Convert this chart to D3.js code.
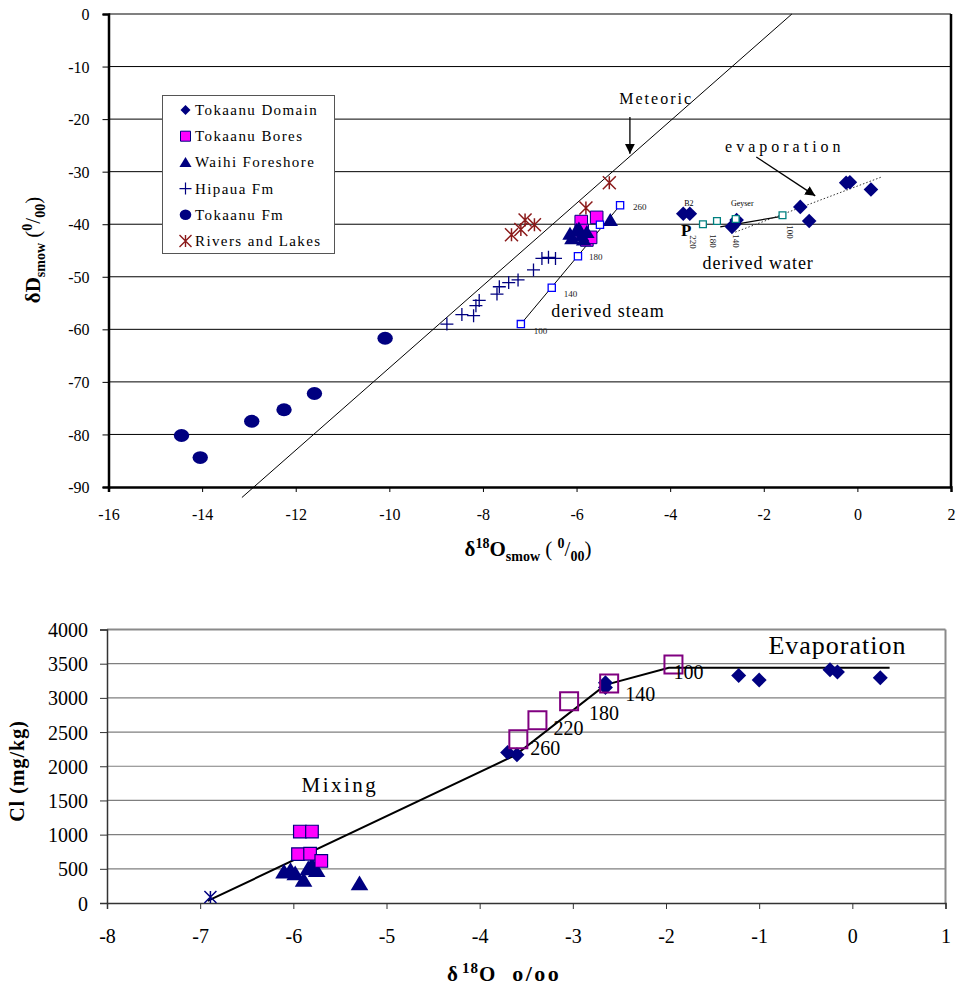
<!DOCTYPE html>
<html><head><meta charset="utf-8">
<script src="https://cdn.jsdelivr.net/npm/d3@7"></script>
<style>body{margin:0;background:#fff}svg{display:block;font-family:"Liberation Serif","Times New Roman",serif}</style>
</head><body><svg id="c" width="956" height="991"></svg>
<script>
// ---------- DATA (top panel: δD vs δ18O) ----------
const topXTicks = [-16,-14,-12,-10,-8,-6,-4,-2,0,2];
const topYTicks = [0,-10,-20,-30,-40,-50,-60,-70,-80,-90];
const seriesNames = ["Tokaanu Domain","Tokaanu Bores","Waihi Foreshore","Hipaua Fm","Tokaanu Fm","Rivers and Lakes"];
const domainTop = [[-3.72,-38.0],[-3.58,-38.0],[-2.58,-39.2],[-2.68,-40.5],[-2.63,-40.0],[-1.22,-36.7],[-1.03,-39.4],[-0.24,-32.1],[-0.16,-32.0],[0.29,-33.4]];
const boresTop = [[-5.9,-39.5],[-5.88,-41.2],[-5.57,-38.7],[-5.78,-43.0],[-5.7,-42.5]];
const waihiTop = [[-6.14,-41.8],[-6.0,-41.1],[-5.89,-42.1],[-5.78,-41.5],[-6.1,-42.7],[-5.95,-40.8],[-5.85,-42.9],[-5.28,-39.2]];
const hipauaTop = [[-8.77,-59.0],[-8.45,-57.2],[-8.2,-57.4],[-8.15,-55.5],[-8.08,-54.5],[-7.7,-53.3],[-7.65,-51.9],[-7.45,-51.1],[-7.25,-50.6],[-6.92,-48.7],[-6.74,-46.5],[-6.6,-46.3],[-6.45,-46.5]];
const tokaanuFm = [[-14.44,-80.2],[-14.04,-84.4],[-12.94,-77.5],[-12.25,-75.3],[-11.6,-72.2],[-10.09,-61.7]];
const riversTop = [[-7.39,-42.0],[-7.19,-41.0],[-7.1,-39.2],[-6.9,-40.1],[-5.8,-36.9],[-5.3,-32.1]];
const meteoricLine = [[-13.15,-92],[-1.4,0]];
const steamPts = [[-7.19,-59.0],[-6.53,-52.1],[-5.97,-46.1],[-5.5,-40.1],[-5.07,-36.4]];
const steamLabels = ["100","140","180","","260"];
const waterPts = [[-3.3,-40.0],[-3.0,-39.4],[-2.6,-39.0],[-1.6,-38.3]];
const waterLabels = ["220","180","140","100"];
const waterLabelPos = [[-3.5,-43.4],[-3.08,-43.2],[-2.58,-43.2],[-1.44,-41.5]];
const pLine = [[-2.93,-40.5],[-1.62,-38.5]];
const evapDotted = [[-2.61,-41.5],[0.52,-31.0]];

// ---------- DATA (bottom panel: Cl vs δ18O) ----------
const botXTicks = [-8,-7,-6,-5,-4,-3,-2,-1,0,1];
const botYTicks = [0,500,1000,1500,2000,2500,3000,3500,4000];
const domainBot = [[-3.7,2200],[-3.6,2170],[-2.65,3220],[-2.65,3150],[-1.22,3328],[-1.0,3260],[-0.24,3411],[-0.16,3380],[0.3,3295]];
const boresBot = [[-5.93,1045],[-5.8,1045],[-5.95,715],[-5.82,720],[-5.7,615]];
const waihiBot = [[-6.1,457],[-6.03,480],[-5.98,433],[-5.89,336],[-5.84,506],[-5.8,555],[-5.75,480],[-5.29,287]];
const riversBot = [[-6.89,88]];
const derivedBot = [[-3.585,2394],[-3.38,2672],[-3.04,2949],[-2.61,3212],[-1.92,3489]];
const derivedBotLabels = ["260","220","180","140","100"];
const mixLine = [[-6.92,30],[-3.62,2160],[-2.65,3190],[-1.97,3440],[0.4,3440]];

// ---------- SETUP ----------
const svg = d3.select("#c");
const navy = "#000080", mag = "#ff00ff", red = "#8b1a1a";
const xT = d3.scaleLinear().domain([-16,2]).range([108.5,951]);
const yT = d3.scaleLinear().domain([-90,0]).range([487,14]);
const xB = d3.scaleLinear().domain([-8,1]).range([107,945.5]);
const yB = d3.scaleLinear().domain([0,4000]).range([903,629.5]);

const M = {
  diamond: r => `M0,${-r}L${r},0L0,${r}L${-r},0Z`,
  square: r => `M${-r},${-r}H${r}V${r}H${-r}Z`,
  triangle: r => `M0,${-r}L${r*1.1},${r*0.85}L${-r*1.1},${r*0.85}Z`,
  plus: r => `M${-r},0H${r}M0,${-r}V${r}`,
  star: r => `M${-r},${-r}L${r},${r}M${-r},${r}L${r},${-r}M0,${-r}V${r}`,
};
function marks(g, data, sx, sy, kind, r, fill, stroke, sw){
  g.selectAll(null).data(data).enter().append(kind==="circle"?"ellipse":"path")
    .each(function(d){
      const s = d3.select(this);
      if(kind==="circle"){ s.attr("cx",sx(d[0])).attr("cy",sy(d[1])).attr("rx",r*1.1).attr("ry",r*0.92); }
      else { s.attr("transform",`translate(${sx(d[0])},${sy(d[1])})`).attr("d",M[kind](r)); }
    })
    .attr("fill",fill).attr("stroke",stroke).attr("stroke-width",sw);
}
const line = (sx,sy)=>d3.line().x(d=>sx(d[0])).y(d=>sy(d[1]));

// ========== TOP PANEL ==========
const gT = svg.append("g");
gT.append("g").selectAll("line").data(topYTicks.filter(v=>v>-90 && v<0)).enter().append("line")
  .attr("x1",xT(-16)).attr("x2",xT(2)).attr("y1",d=>yT(d)).attr("y2",d=>yT(d)).attr("stroke","#000").attr("stroke-width",1);
gT.append("line").attr("x1",xT(-16)).attr("x2",xT(2)).attr("y1",yT(0)).attr("y2",yT(0)).attr("stroke","#808080").attr("stroke-width",2);
gT.append("line").attr("x1",xT(2)).attr("x2",xT(2)).attr("y1",yT(0)).attr("y2",yT(-90)).attr("stroke","#000").attr("stroke-width",2.5);
const axL = d3.axisLeft(yT).tickValues(topYTicks).tickSize(6).tickFormat(d=>String(d));
const axB = d3.axisBottom(xT).tickValues(topXTicks).tickSize(5).tickFormat(d=>String(d));
const gyT = gT.append("g").attr("transform",`translate(${xT(-16)},0)`).call(axL);
const gxT = gT.append("g").attr("transform",`translate(0,${yT(-90)})`).call(axB);
[gyT,gxT].forEach(g=>{g.select(".domain").attr("stroke","#000").attr("stroke-width",2.5);
  g.selectAll(".tick line").attr("stroke","#000");
  g.selectAll("text").attr("font-family","Liberation Serif").attr("font-size",16).attr("fill","#000");});
gyT.selectAll("text").attr("x",-19).attr("dy","0.35em");
gxT.selectAll("text").attr("y",22);

gT.append("path").datum(meteoricLine).attr("d",line(xT,yT)).attr("fill","none").attr("stroke","#000").attr("stroke-width",1);
gT.append("path").datum([steamPts[0],steamPts[4]]).attr("d",line(xT,yT)).attr("fill","none").attr("stroke","#000").attr("stroke-width",1);
gT.append("path").datum(pLine).attr("d",line(xT,yT)).attr("fill","none").attr("stroke","#000").attr("stroke-width",1.3);
gT.append("path").datum(evapDotted).attr("d",line(xT,yT)).attr("fill","none").attr("stroke","#333").attr("stroke-width",1).attr("stroke-dasharray","1.5,2");

marks(gT, tokaanuFm, xT, yT, "circle", 7, navy, navy, 0);
marks(gT, hipauaTop, xT, yT, "plus", 6.5, "none", navy, 1.3);
marks(gT, riversTop, xT, yT, "star", 6.5, "none", red, 1.5);
marks(gT, boresTop, xT, yT, "square", 6.3, mag, navy, 1);
marks(gT, waihiTop, xT, yT, "triangle", 7, navy, navy, 0);
marks(gT, domainTop, xT, yT, "diamond", 7.3, navy, navy, 0);
marks(gT, steamPts, xT, yT, "square", 3.6, "#fff", "#0000ff", 1.3);
marks(gT, waterPts, xT, yT, "square", 3.4, "#fff", "#008080", 1.3);

const steamOff = [[13,10],[12,9],[11,4],[0,0],[13,5]];
gT.selectAll(null).data(steamPts).enter().append("text")
  .attr("x",(d,i)=>xT(d[0])+steamOff[i][0]).attr("y",(d,i)=>yT(d[1])+steamOff[i][1])
  .attr("font-size",9).attr("fill","#222").text((d,i)=>steamLabels[i]);
gT.selectAll(null).data(waterLabelPos).enter().append("text")
  .attr("transform",d=>`translate(${xT(d[0])},${yT(d[1])}) rotate(90)`)
  .attr("text-anchor","middle").attr("dy","0.35em").attr("font-size",9).attr("fill","#222")
  .text((d,i)=>waterLabels[i]);

const ann = (g,x,y,t,size,opts={})=>g.append("text").attr("x",x).attr("y",y).attr("text-anchor",opts.anchor||"middle")
  .attr("font-size",size).attr("letter-spacing",opts.ls||0).attr("font-weight",opts.bold?"bold":"normal").attr("fill","#000").text(t);
ann(gT,xT(-4.3),yT(-16.2)+5,"Meteoric",16,{ls:2});
ann(gT,xT(-1.55),yT(-25.3)+5,"evaporation",16,{ls:4});
ann(gT,xT(-5.33),yT(-56.6)+6,"derived steam",18,{ls:1});
ann(gT,xT(-2.12),yT(-47.4)+6,"derived water",18,{ls:1});
ann(gT,xT(-3.66),yT(-41.1)+6,"P",17,{bold:true});
ann(gT,xT(-3.6),yT(-36.0)+3,"B2",8);
ann(gT,xT(-2.46),yT(-36.0)+3,"Geyser",8);

const defs = svg.append("defs");
defs.append("marker").attr("id","ah").attr("viewBox","0 0 10 10").attr("refX",10).attr("refY",5)
  .attr("markerWidth",10).attr("markerHeight",10).attr("markerUnits","userSpaceOnUse").attr("orient","auto")
  .append("path").attr("d","M0,0L10,5L0,10Z").attr("fill","#000");
const meteoricArrow = [[-4.86,-19.6],[-4.86,-26.6]];
const evapArrow = [[-2.16,-27.2],[-0.9,-34.6]];
[meteoricArrow,evapArrow].forEach(a=>gT.append("path").datum(a).attr("d",line(xT,yT))
  .attr("stroke","#000").attr("stroke-width",1.3).attr("fill","none").attr("marker-end","url(#ah)"));

const lg = gT.append("g");
lg.append("rect").attr("x",162.5).attr("y",95.5).attr("width",172).attr("height",158).attr("fill","#fff").attr("stroke","#555").attr("stroke-width",1);
const legKinds = [["diamond",5,navy,navy,0],["square",5,mag,navy,1],["triangle",5.5,navy,navy,0],["plus",6,"none",navy,1.2],["circle",5.5,navy,navy,0],["star",6,"none",red,1.4]];
seriesNames.forEach((n,i)=>{
  const cy = 110 + i*26.2;
  const [k,r,f,s,w] = legKinds[i];
  if(k==="circle") lg.append("ellipse").attr("cx",185.5).attr("cy",cy).attr("rx",r*1.05).attr("ry",r*0.95).attr("fill",f);
  else lg.append("path").attr("transform",`translate(185.5,${cy})`).attr("d",M[k](r)).attr("fill",f).attr("stroke",s).attr("stroke-width",w);
  lg.append("text").attr("x",195).attr("y",cy+5).attr("font-size",15).attr("letter-spacing",1.4).text(n);
});

const yt = gT.append("text").attr("transform","translate(40,250) rotate(-90)").attr("text-anchor","middle").attr("font-size",21);
yt.append("tspan").attr("font-weight","bold").text("δD");
yt.append("tspan").attr("font-weight","bold").attr("font-size",14).attr("dy",5).text("smow");
yt.append("tspan").attr("dy",-5).text(" (");
yt.append("tspan").attr("font-weight","bold").attr("font-size",14).attr("dy",-8).text("0");
yt.append("tspan").attr("dy",8).text("/");
yt.append("tspan").attr("font-weight","bold").attr("font-size",14).attr("dy",5).text("00");
yt.append("tspan").attr("dy",-5).text(")");

const xt = gT.append("text").attr("x",528).attr("y",556).attr("text-anchor","middle").attr("font-size",21).attr("font-weight","bold");
xt.append("tspan").text("δ");
xt.append("tspan").attr("font-size",14).attr("dy",-8).text("18");
xt.append("tspan").attr("dy",8).text("O");
xt.append("tspan").attr("font-size",14).attr("dy",5).text("smow");
xt.append("tspan").attr("dy",-5).attr("font-weight","normal").text(" ( ");
xt.append("tspan").attr("font-size",14).attr("dy",-8).text("0");
xt.append("tspan").attr("dy",8).attr("font-weight","normal").text("/");
xt.append("tspan").attr("font-size",14).attr("dy",5).text("00");
xt.append("tspan").attr("dy",-5).attr("font-weight","normal").text(")");

// ========== BOTTOM PANEL ==========
const gB = svg.append("g");
gB.append("g").selectAll("line").data(botYTicks.filter(v=>v>0 && v<4000)).enter().append("line")
  .attr("x1",xB(-8)).attr("x2",xB(1)).attr("y1",d=>yB(d)).attr("y2",d=>yB(d)).attr("stroke","#7f7f7f").attr("stroke-width",1.2);
gB.append("line").attr("x1",xB(-8)).attr("x2",xB(1)).attr("y1",yB(4000)).attr("y2",yB(4000)).attr("stroke","#8a8a8a").attr("stroke-width",2);
gB.append("line").attr("x1",xB(1)).attr("x2",xB(1)).attr("y1",yB(4000)).attr("y2",yB(0)).attr("stroke","#8a8a8a").attr("stroke-width",2);
const axLB = d3.axisLeft(yB).tickValues(botYTicks).tickSize(7).tickFormat(d=>String(d));
const axBB = d3.axisBottom(xB).tickValues(botXTicks).tickSize(6).tickFormat(d=>String(d));
const gyB = gB.append("g").attr("transform",`translate(${xB(-8)},0)`).call(axLB);
const gxB = gB.append("g").attr("transform",`translate(0,${yB(0)})`).call(axBB);
[gyB,gxB].forEach(g=>{g.select(".domain").attr("stroke","#333").attr("stroke-width",1.5);
  g.selectAll(".tick line").attr("stroke","#333");
  g.selectAll("text").attr("font-family","Liberation Serif").attr("font-size",20).attr("fill","#000");});
gyB.selectAll("text").attr("x",-19).attr("dy","0.35em");
gxB.selectAll("text").attr("y",26);

gB.append("path").datum(mixLine).attr("d",line(xB,yB)).attr("fill","none").attr("stroke","#000").attr("stroke-width",2);
marks(gB, waihiBot, xB, yB, "triangle", 8, navy, navy, 0);
marks(gB, boresBot, xB, yB, "square", 6.3, mag, navy, 1.2);
marks(gB, domainBot, xB, yB, "diamond", 7.5, navy, navy, 0);
marks(gB, riversBot, xB, yB, "star", 6, "none", navy, 1.5);
marks(gB, derivedBot, xB, yB, "square", 9, "none", "#800080", 2);
const dOff = [[12,16],[16,15],[20,19],[16,18],[0,15]];
gB.selectAll(null).data(derivedBot).enter().append("text")
  .attr("x",(d,i)=>xB(d[0])+dOff[i][0]).attr("y",(d,i)=>yB(d[1])+dOff[i][1])
  .attr("font-size",20).attr("fill","#000").text((d,i)=>derivedBotLabels[i]);
ann(gB,xB(-5.5),yB(1723)+7,"Mixing",21,{ls:2.5});
ann(gB,xB(-0.16),yB(3766)+9,"Evaporation",26,{ls:1});

gB.append("text").attr("transform","translate(24,771) rotate(-90)").attr("text-anchor","middle").attr("font-size",20).attr("letter-spacing",1).attr("font-weight","bold").text("Cl (mg/kg)");
const xbt = gB.append("text").attr("x",447).attr("y",981).attr("text-anchor","start").attr("font-size",21).attr("font-weight","bold").attr("letter-spacing",1);
xbt.append("tspan").text("δ");
xbt.append("tspan").attr("font-size",15).attr("dx",3).attr("dy",-8).text("18");
xbt.append("tspan").attr("dy",8).text("O");
xbt.append("tspan").attr("dx",16).attr("font-size",22).attr("letter-spacing",2.5).text("o/oo");
</script></body></html>
